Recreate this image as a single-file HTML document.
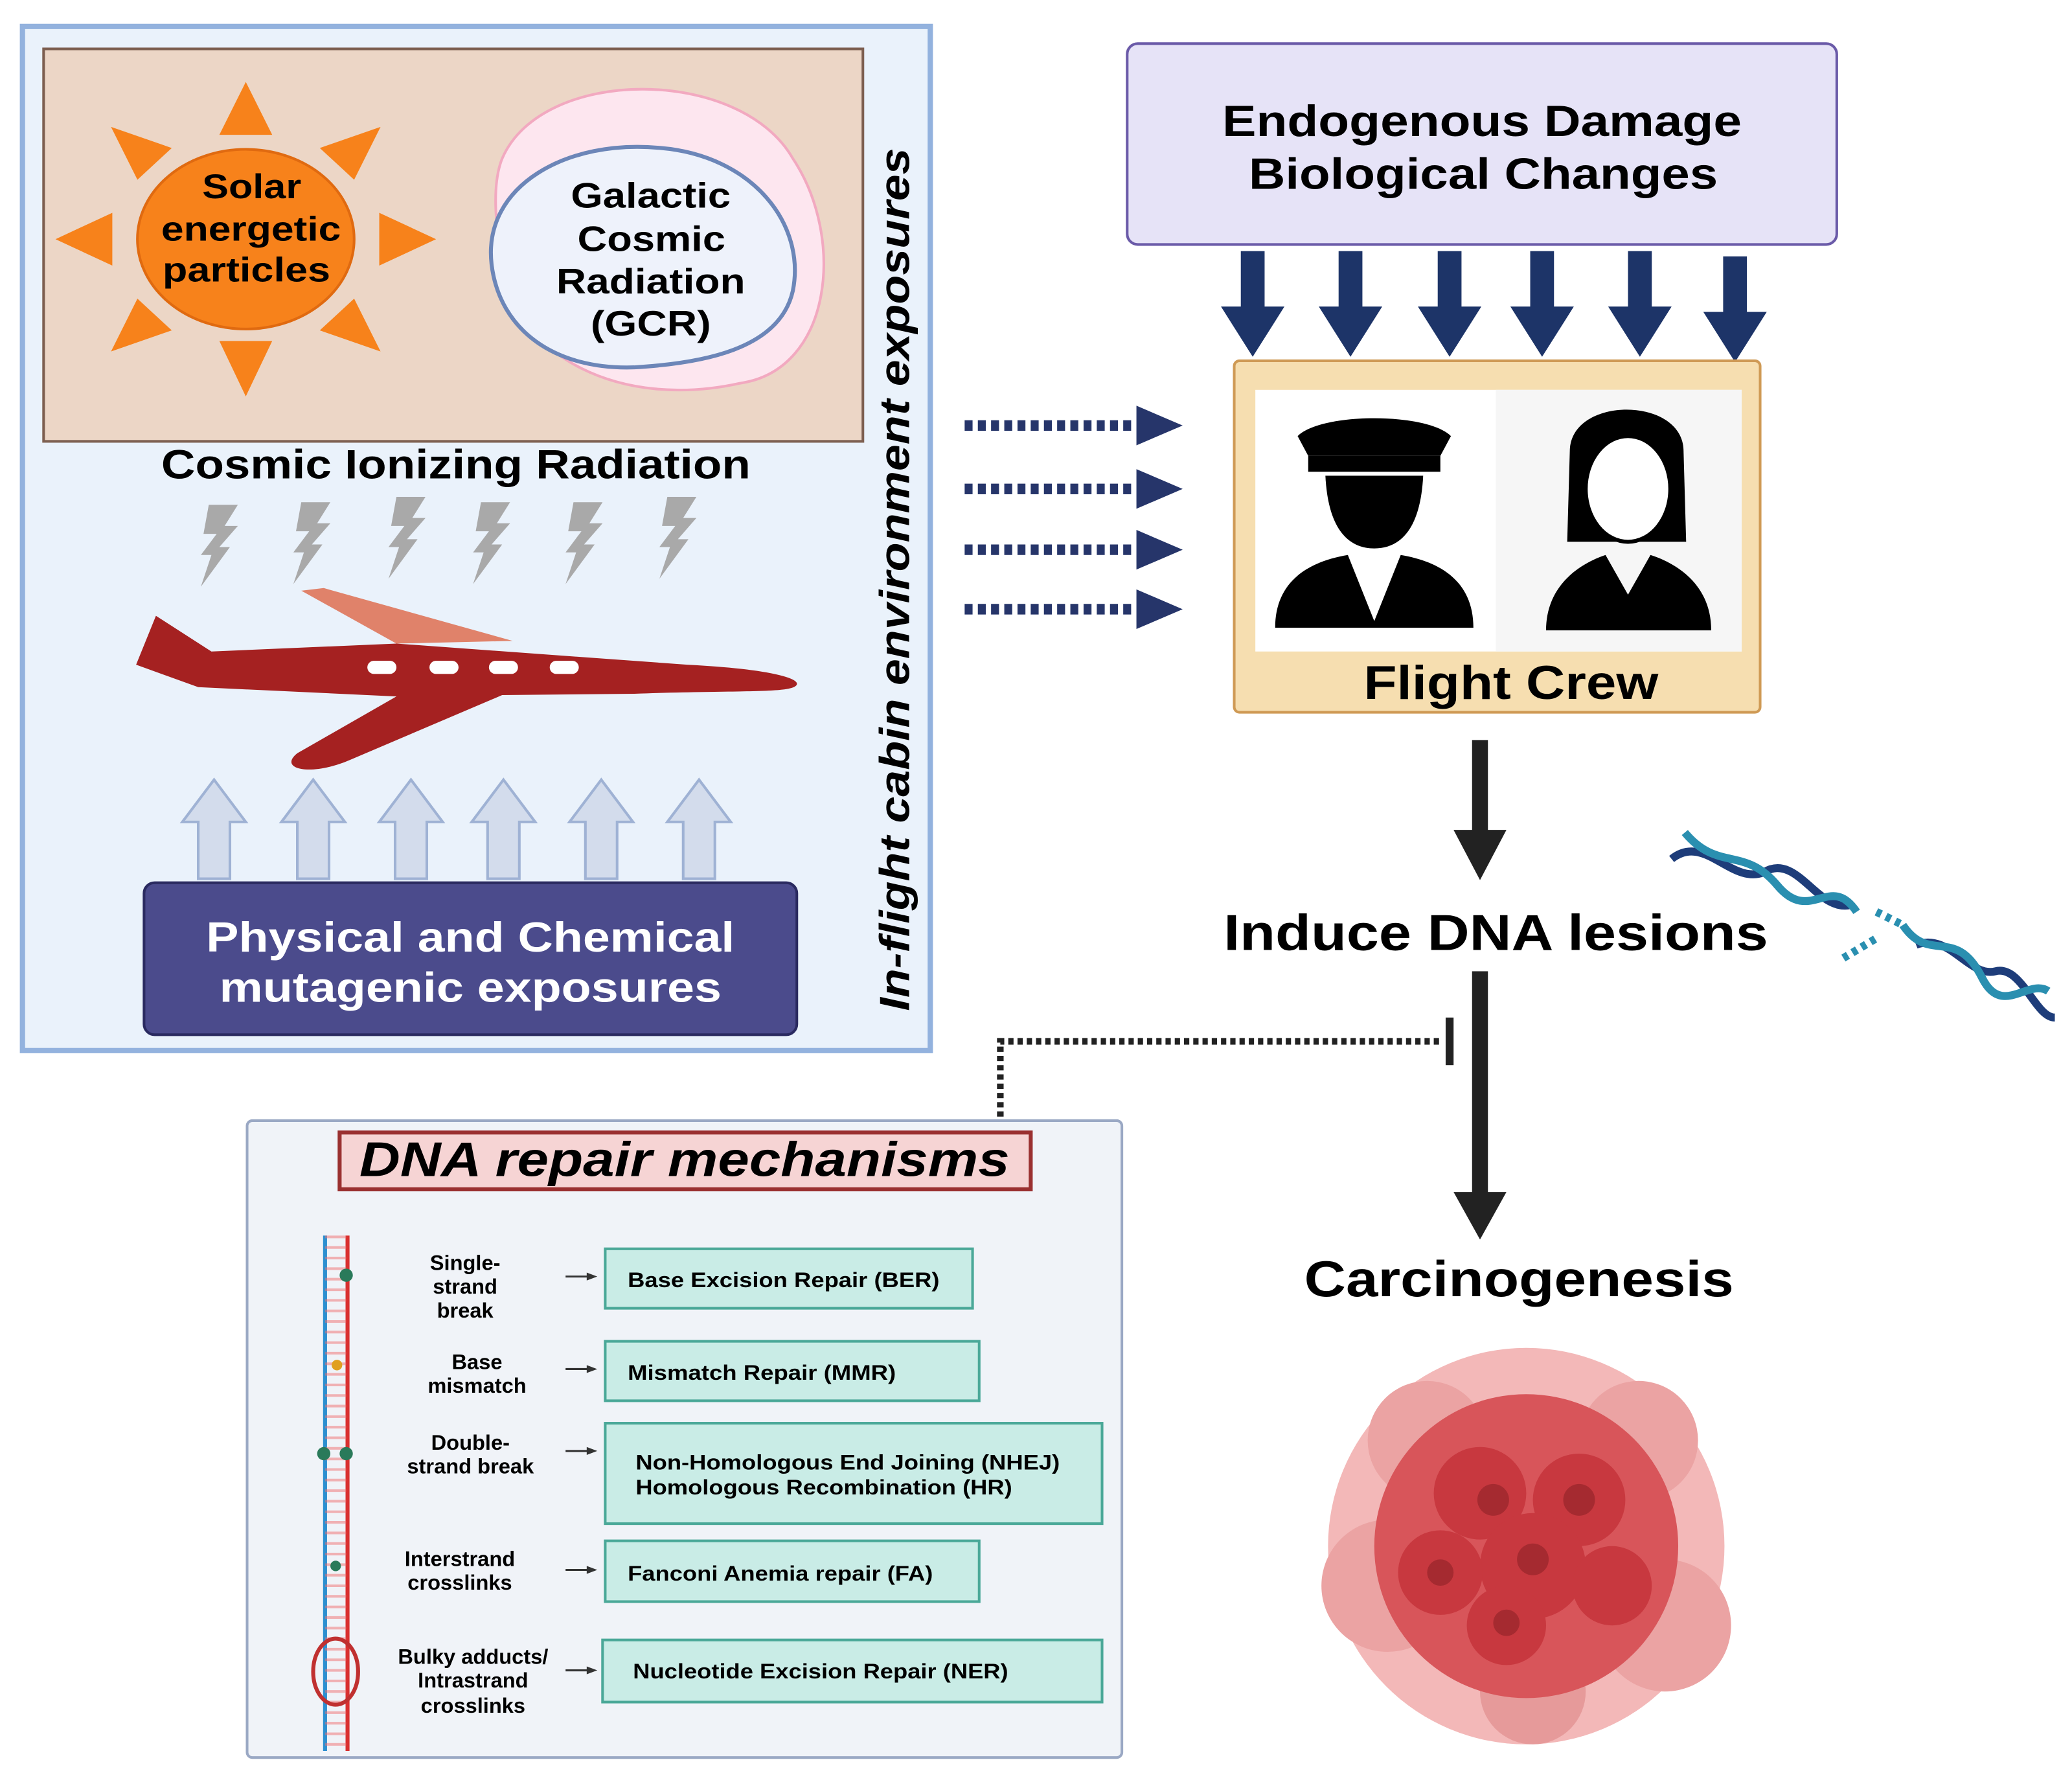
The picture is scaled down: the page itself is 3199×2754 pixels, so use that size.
<!DOCTYPE html>
<html><head><meta charset="utf-8"><style>html,body{margin:0;padding:0;background:#fff}svg{display:block}text{font-family:"Liberation Sans",sans-serif;font-weight:bold}</style></head><body>
<svg width="3199" height="2754" viewBox="0 0 1568 1350" preserveAspectRatio="none" xmlns="http://www.w3.org/2000/svg">
<defs>
<g id="bolt"><polygon points="0,0 22,0 12,16 22,16 8,32 16,32 -6,62 2,38 -6,38 6,22 -4,22" fill="#a9a9a9"/></g>
<g id="uparr"><polygon points="-12,75 12,75 12,32 24,32 0,0 -24,32 -12,32" fill="#d3dcec" stroke="#9fb2d4" stroke-width="2"/></g>
<g id="dnarr"><polygon points="-9,0 9,0 9,42 24,42 0,80 -24,42 -9,42" fill="#1d3468"/></g>
<g id="dotarr"><line x1="730" y1="0" x2="858" y2="0" stroke="#26356a" stroke-width="8" stroke-dasharray="6,4"/><polygon points="860,-15 895,0 860,15" fill="#26356a"/></g>
<g id="sarr"><line x1="428" y1="0" x2="446" y2="0" stroke="#333" stroke-width="1.5"/><polygon points="444,-3 452,0 444,3" fill="#333"/></g>
</defs>
<rect x="17" y="20" width="687" height="775" fill="#eaf2fb" stroke="#93b2de" stroke-width="4"/>
<rect x="33" y="37" width="620" height="297" fill="#ecd6c6" stroke="#7d5f50" stroke-width="2"/>
<g fill="#f7821b">
<polygon points="186,62 166,102 206,102"/><polygon points="186,300 166,258 206,258"/>
<polygon points="42,181 85,161 85,201"/><polygon points="330,181 287,161 287,201"/>
<polygon points="84,96 130,112 104,136"/><polygon points="288,96 242,112 268,136"/>
<polygon points="84,266 104,226 130,250"/><polygon points="288,266 268,226 242,250"/>
<ellipse cx="186" cy="181" rx="82" ry="68" stroke="#e06a10" stroke-width="2"/>
</g>
<text x="153" y="150" font-size="26" textLength="75" lengthAdjust="spacingAndGlyphs">Solar</text>
<text x="122" y="182" font-size="26" textLength="136" lengthAdjust="spacingAndGlyphs">energetic</text>
<text x="123" y="213" font-size="26" textLength="127" lengthAdjust="spacingAndGlyphs">particles</text>
<path d="M380,120 C410,50 560,50 600,120 C640,180 630,280 560,290 C470,310 390,270 380,200 C375,170 372,140 380,120Z" fill="#fde6ef" stroke="#f2a9c0" stroke-width="2"/>
<path d="M372,200 C365,140 430,105 500,112 C570,118 610,170 600,220 C590,265 530,275 480,278 C420,280 378,250 372,200Z" fill="#eef2fb" stroke="#6c86b8" stroke-width="3"/>
<text x="432" y="157" font-size="27" textLength="121" lengthAdjust="spacingAndGlyphs">Galactic</text>
<text x="437" y="190" font-size="27" textLength="112" lengthAdjust="spacingAndGlyphs">Cosmic</text>
<text x="421" y="222" font-size="27" textLength="143" lengthAdjust="spacingAndGlyphs">Radiation</text>
<text x="447" y="254" font-size="27" textLength="91" lengthAdjust="spacingAndGlyphs">(GCR)</text>
<text x="122" y="362" font-size="31" textLength="446" lengthAdjust="spacingAndGlyphs">Cosmic Ionizing Radiation</text>
<use href="#bolt" x="158" y="382"/><use href="#bolt" x="228" y="380"/><use href="#bolt" x="300" y="376"/><use href="#bolt" x="364" y="380"/><use href="#bolt" x="434" y="380"/><use href="#bolt" x="505" y="376"/>
<polygon points="228,447 245,445 388,485 300,487" fill="#e0826a"/>
<path d="M103,503 L118,466 L160,493 L300,487 L520,503 C580,506 605,513 603,518 C600,525 560,522 480,525 L380,526 L265,575 C235,588 210,582 225,570 L300,527 L150,520 Z" fill="#a52121"/>
<g fill="#fff"><rect x="278" y="500" width="22" height="10" rx="5"/><rect x="325" y="500" width="22" height="10" rx="5"/><rect x="370" y="500" width="22" height="10" rx="5"/><rect x="416" y="500" width="22" height="10" rx="5"/></g>
<use href="#uparr" x="162" y="590"/><use href="#uparr" x="237" y="590"/><use href="#uparr" x="311" y="590"/><use href="#uparr" x="381" y="590"/><use href="#uparr" x="455" y="590"/><use href="#uparr" x="529" y="590"/>
<rect x="109" y="668" width="494" height="115" rx="8" fill="#4b4b8c" stroke="#2a2a60" stroke-width="2"/>
<text x="156" y="720" font-size="32" fill="#fff" textLength="400" lengthAdjust="spacingAndGlyphs">Physical and Chemical</text>
<text x="166" y="758" font-size="32" fill="#fff" textLength="380" lengthAdjust="spacingAndGlyphs">mutagenic exposures</text>
<text transform="translate(688,765) rotate(-90)" font-size="32" font-style="italic" textLength="653" lengthAdjust="spacingAndGlyphs">In-flight cabin environment exposures</text>
<use href="#dotarr" y="322"/><use href="#dotarr" y="370"/><use href="#dotarr" y="416"/><use href="#dotarr" y="461"/>
<rect x="853" y="33" width="537" height="152" rx="8" fill="#e6e3f7" stroke="#6a5aa8" stroke-width="2"/>
<text x="925" y="103" font-size="33" textLength="393" lengthAdjust="spacingAndGlyphs">Endogenous Damage</text>
<text x="945" y="143" font-size="33" textLength="355" lengthAdjust="spacingAndGlyphs">Biological Changes</text>
<use href="#dnarr" x="948" y="190"/><use href="#dnarr" x="1022" y="190"/><use href="#dnarr" x="1097" y="190"/><use href="#dnarr" x="1167" y="190"/><use href="#dnarr" x="1241" y="190"/><use href="#dnarr" x="1313" y="194"/>
<rect x="934" y="273" width="398" height="266" rx="4" fill="#f6deb0" stroke="#cf9a55" stroke-width="2"/>
<rect x="950" y="295" width="368" height="198" fill="#fff"/>
<rect x="1132" y="295" width="186" height="198" fill="#f6f6f6"/>
<g fill="#000">
<path d="M982,330 C1000,312 1080,312 1098,330 L1090,345 L990,345Z"/><rect x="990" y="345" width="100" height="12"/>
<path d="M1003,360 L1077,360 C1075,400 1060,415 1040,415 C1020,415 1005,400 1003,360Z"/>
<path d="M965,475 C965,440 990,425 1020,420 L1040,470 L1060,420 C1090,425 1115,440 1115,475Z"/>
<path d="M1188,340 C1190,300 1272,300 1274,340 L1276,410 L1186,410Z"/>
<ellipse cx="1232" cy="370" rx="32" ry="40" fill="#fff" stroke="#000" stroke-width="3"/>
<path d="M1170,477 C1170,440 1200,425 1215,420 L1232,450 L1249,420 C1265,425 1295,440 1295,477Z"/>
</g>
<text x="1032" y="529" font-size="36" textLength="223" lengthAdjust="spacingAndGlyphs">Flight Crew</text>
<rect x="1114" y="560" width="12" height="70" fill="#222"/><polygon points="1100,628 1140,628 1120,666" fill="#222"/>
<text x="926" y="719" font-size="38" textLength="412" lengthAdjust="spacingAndGlyphs">Induce DNA lesions</text>
<g fill="none" stroke-width="6">
<path d="M1265,650 C1290,630 1310,670 1335,660 C1360,645 1375,690 1400,685 M1450,715 C1475,705 1490,740 1510,735 C1530,730 1540,770 1555,770" stroke="#1e3d7a"/>
<path d="M1275,630 C1300,660 1320,640 1345,670 C1370,700 1385,660 1405,690 M1440,700 C1460,730 1480,700 1500,740 C1515,770 1535,740 1550,750" stroke="#2a8fb0"/>
<path d="M1420,690 L1440,700 M1395,725 L1420,710" stroke="#2a8fb0" stroke-dasharray="4,4"/>
</g>
<rect x="1114" y="735" width="12" height="170" fill="#222"/><polygon points="1100,902 1140,902 1120,938" fill="#222"/>
<path d="M757,852 L757,788 L1090,788" fill="none" stroke="#222" stroke-width="5" stroke-dasharray="4,3"/>
<rect x="1094" y="770" width="6" height="36" fill="#222"/>
<text x="987" y="981" font-size="38" textLength="325" lengthAdjust="spacingAndGlyphs">Carcinogenesis</text>
<g>
<circle cx="1155" cy="1170" r="150" fill="#f3b8b8"/>
<circle cx="1080" cy="1090" r="45" fill="#eba3a3"/><circle cx="1240" cy="1090" r="45" fill="#eba3a3"/><circle cx="1050" cy="1200" r="50" fill="#eba3a3"/><circle cx="1260" cy="1230" r="50" fill="#eba3a3"/><circle cx="1160" cy="1280" r="40" fill="#e69a9a"/>
<circle cx="1155" cy="1170" r="115" fill="#d8555a"/>
<circle cx="1120" cy="1130" r="35" fill="#c8383f"/><circle cx="1195" cy="1135" r="35" fill="#c8383f"/><circle cx="1160" cy="1185" r="40" fill="#c8383f"/><circle cx="1090" cy="1190" r="32" fill="#c8383f"/><circle cx="1140" cy="1230" r="30" fill="#c8383f"/><circle cx="1220" cy="1200" r="30" fill="#c8383f"/>
<circle cx="1130" cy="1135" r="12" fill="#a52a30"/><circle cx="1195" cy="1135" r="12" fill="#a52a30"/><circle cx="1160" cy="1180" r="12" fill="#a52a30"/><circle cx="1090" cy="1190" r="10" fill="#a52a30"/><circle cx="1140" cy="1228" r="10" fill="#a52a30"/>
</g>
<rect x="187" y="848" width="662" height="482" rx="4" fill="#f0f3f8" stroke="#9aa8c4" stroke-width="2"/>
<rect x="257" y="857" width="523" height="43" fill="#f6d4d4" stroke="#9a3030" stroke-width="3"/>
<text x="272" y="890" font-size="37" font-style="italic" textLength="492" lengthAdjust="spacingAndGlyphs">DNA repair mechanisms</text>
<line x1="246" y1="935" x2="246" y2="1325" stroke="#2c8fd0" stroke-width="3"/>
<line x1="263" y1="935" x2="263" y2="1325" stroke="#d93030" stroke-width="3"/>
<line x1="254" y1="935" x2="254" y2="1325" stroke="#f07070" stroke-width="16" stroke-dasharray="2,6" opacity="0.5"/>
<g fill="#2a7a5a"><circle cx="262" cy="965" r="5"/><circle cx="255" cy="1033" r="4" fill="#e0a020"/><circle cx="245" cy="1100" r="5"/><circle cx="262" cy="1100" r="5"/><circle cx="254" cy="1185" r="4"/></g>
<ellipse cx="254" cy="1265" rx="17" ry="25" fill="none" stroke="#c03030" stroke-width="3"/>
<g font-size="16" text-anchor="middle">
<text x="352" y="961">Single-</text><text x="352" y="979">strand</text><text x="352" y="997">break</text>
<text x="361" y="1036">Base</text><text x="361" y="1054">mismatch</text>
<text x="356" y="1097">Double-</text><text x="356" y="1115">strand break</text>
<text x="348" y="1185">Interstrand</text><text x="348" y="1203">crosslinks</text>
<text x="358" y="1259">Bulky adducts/</text><text x="358" y="1277">Intrastrand</text><text x="358" y="1296">crosslinks</text>
</g>
<use href="#sarr" y="966"/><use href="#sarr" y="1036"/><use href="#sarr" y="1098"/><use href="#sarr" y="1188"/><use href="#sarr" y="1264"/>
<g fill="#c9ece6" stroke="#4aa898" stroke-width="2">
<rect x="458" y="945" width="278" height="45"/><rect x="458" y="1015" width="283" height="45"/><rect x="458" y="1077" width="376" height="76"/><rect x="458" y="1166" width="283" height="46"/><rect x="456" y="1241" width="378" height="47"/>
</g>
<g font-size="16">
<text x="475" y="974" textLength="236" lengthAdjust="spacingAndGlyphs">Base Excision Repair (BER)</text>
<text x="475" y="1044" textLength="203" lengthAdjust="spacingAndGlyphs">Mismatch Repair (MMR)</text>
<text x="481" y="1112" textLength="321" lengthAdjust="spacingAndGlyphs">Non-Homologous End Joining (NHEJ)</text>
<text x="481" y="1131" textLength="285" lengthAdjust="spacingAndGlyphs">Homologous Recombination (HR)</text>
<text x="475" y="1196" textLength="231" lengthAdjust="spacingAndGlyphs">Fanconi Anemia repair (FA)</text>
<text x="479" y="1270" textLength="284" lengthAdjust="spacingAndGlyphs">Nucleotide Excision Repair (NER)</text>
</g>
</svg>
</body></html>
